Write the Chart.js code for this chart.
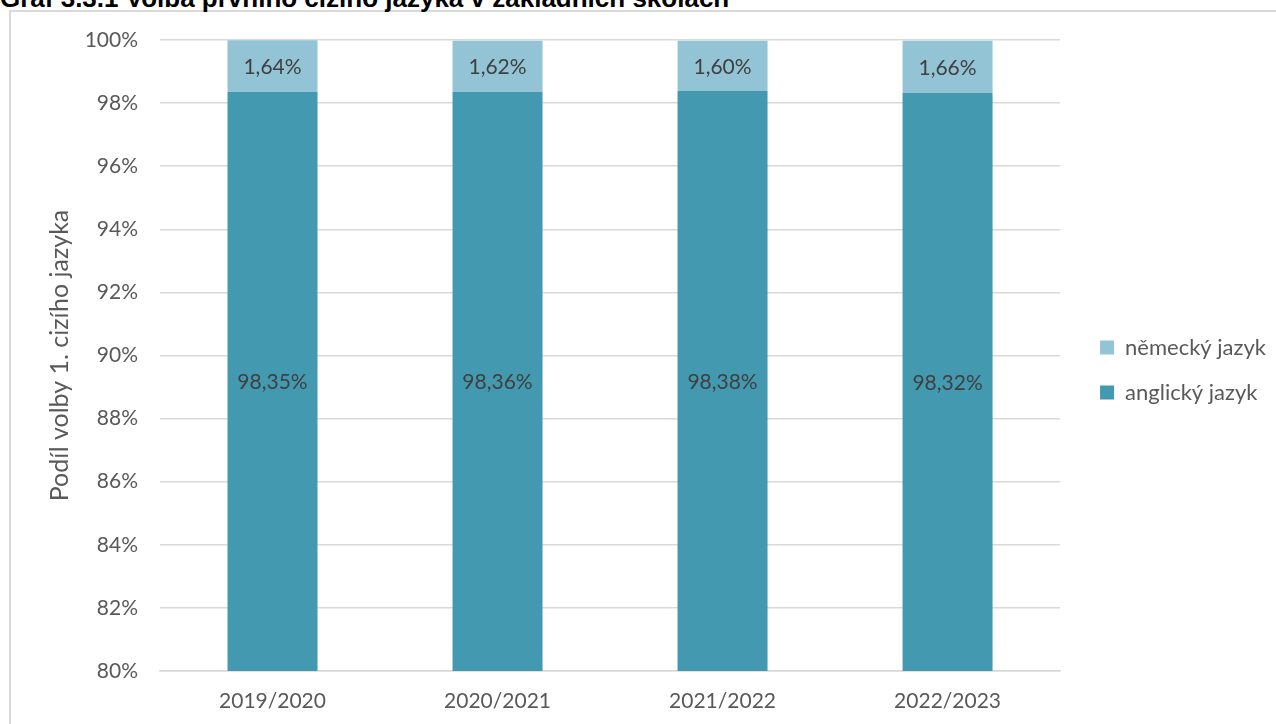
<!DOCTYPE html>
<html>
<head>
<meta charset="utf-8">
<script src="https://cdn.jsdelivr.net/npm/chart.js@4.4.0/dist/chart.umd.min.js"></script>
<style>
	html, body { margin: 0; padding: 0; background: #fff; overflow: hidden; }
	#wrap { position: relative; width: 1276px; height: 724px; }
	#frame { position: absolute; left: 9px; top: 10px; width: 1300px; height: 800px; border: 2px solid #d9d9d9; box-sizing: border-box; }
	#title { position: absolute; left: 0; top: -15px; font: bold 26px "Liberation Sans", Arial, sans-serif; line-height: 26px; color: #000; white-space: nowrap; }
	#chartbox { position: absolute; left: 0; top: 0; width: 1276px; height: 724px; }
</style>
</head>
<body>
<div id="wrap">
	<div id="frame"></div>
	<div id="title">Graf 3.3.1 Volba prvního cizího jazyka v základních školách</div>
	<div id="chartbox"><canvas id="jazykchart" width="1276" height="724"></canvas></div>
</div>
<script>
var years = ['2019/2020', '2020/2021', '2021/2022', '2022/2023'];
var anglicky = [98.35, 98.36, 98.38, 98.32];
var nemecky = [1.64, 1.62, 1.60, 1.66];
var yTicks = [80, 82, 84, 86, 88, 90, 92, 94, 96, 98, 100];

var fontFamily = 'Lato, "Open Sans", sans-serif';

// labels in the middle of the visible part of each segment
var segmentLabels = {
	id: 'segmentLabels',
	afterLayout: function(chart) {
		// push the legend a bit away from the plot and up
		chart.legend.left += 17;
		chart.legend.right += 17;
		chart.legend.top -= 12;
		chart.legend.bottom -= 12;
	},
	afterDatasetsDraw: function(chart) {
		var ctx = chart.ctx;
		var area = chart.chartArea;
		ctx.save();
		ctx.font = '21px ' + fontFamily;
		ctx.fillStyle = '#404040';
		ctx.textAlign = 'center';
		ctx.textBaseline = 'middle';
		chart.data.datasets.forEach(function(ds, i) {
			var meta = chart.getDatasetMeta(i);
			meta.data.forEach(function(bar, j) {
				var top = Math.max(Math.min(bar.y, bar.base), area.top);
				var bottom = Math.min(Math.max(bar.y, bar.base), area.bottom);
				var txt = ds.data[j].toFixed(2).replace('.', ',') + '%';
				ctx.fillText(txt, bar.x, (top + bottom) / 2 + 1);
			});
		});
		ctx.restore();
	}
};

var ctx = document.getElementById('jazykchart').getContext('2d');

var jazykchart = new Chart(ctx, {
	type: 'bar',
	data: {
		labels: years,
		datasets: [
			{
				label: 'anglický jazyk',
				backgroundColor: '#4399b0',
				data: anglicky
			},
			{
				label: 'německý jazyk',
				backgroundColor: '#93c4d5',
				data: nemecky
			}
		]
	},
	options: {
		responsive: false,
		animation: false,
		datasets: {
			bar: { barPercentage: 0.4, categoryPercentage: 1 }
		},
		layout: {
			padding: { left: 0, right: 17, top: 40, bottom: 0 }
		},
		scales: {
			x: {
				stacked: true,
				afterFit: function(axis) { axis.height = 53; },
				grid: { display: false },
				border: { color: '#d9d9d9', width: 1.5 },
				ticks: { color: '#595959', font: { family: fontFamily, size: 21 }, padding: 10 }
			},
			y: {
				stacked: true,
				min: 80,
				max: 100,
				afterFit: function(axis) { axis.width = 160; },
				afterBuildTicks: function(axis) {
					axis.ticks = yTicks.map(function(v) { return { value: v }; });
				},
				grid: { color: '#d9d9d9', lineWidth: 1.5, drawTicks: false },
				border: { display: false },
				ticks: {
					color: '#595959',
					font: { family: fontFamily, size: 21 },
					padding: 22,
					callback: function(v) { return v + '%'; }
				},
				title: {
					display: true,
					text: 'Podíl volby 1. cizího jazyka',
					color: '#595959',
					font: { family: fontFamily, size: 25, weight: 'normal' },
					padding: { top: 45, bottom: 0 }
				}
			}
		},
		plugins: {
			legend: {
				position: 'right',
				reverse: true,
				labels: {
					color: '#595959',
					font: { family: fontFamily, size: 22 },
					boxWidth: 14,
					boxHeight: 14,
					padding: 23
				}
			},
			tooltip: { enabled: false }
		}
	},
	plugins: [segmentLabels]
});
</script>
</body>
</html>
